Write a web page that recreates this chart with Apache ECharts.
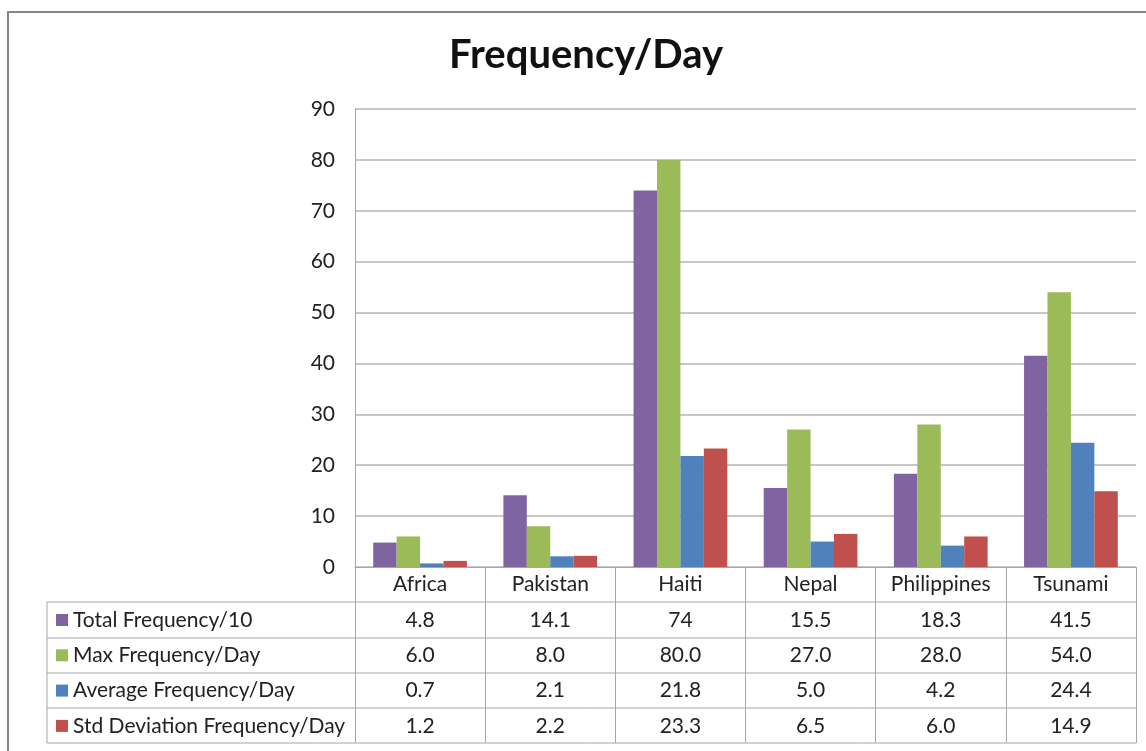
<!DOCTYPE html>
<html>
<head>
<meta charset="utf-8">
<title>Frequency/Day</title>
<script src="https://cdn.jsdelivr.net/npm/echarts@6/dist/echarts.min.js"></script>
<style>
  html, body { margin: 0; padding: 0; background: #fff; }
  #main { width: 1146px; height: 751px; }
</style>
</head>
<body>
<div id="main"></div>
<script>
var categories = ['Africa', 'Pakistan', 'Haiti', 'Nepal', 'Philippines', 'Tsunami'];
var totalFreq = [4.8, 14.1, 74, 15.5, 18.3, 41.5];
var maxFreq = [6.0, 8.0, 80.0, 27.0, 28.0, 54.0];
var avgFreq = [0.7, 2.1, 21.8, 5.0, 4.2, 24.4];
var stdFreq = [1.2, 2.2, 23.3, 6.5, 6.0, 14.9];
var seriesNames = ['Total Frequency/10', 'Max Frequency/Day', 'Average Frequency/Day', 'Std Deviation Frequency/Day'];
var yTicks = [0, 10, 20, 30, 40, 50, 60, 70, 80, 90];

var colors = ['#8064A2', '#9BBB59', '#4F81BD', '#C0504D'];
var font = 'Lato, "Noto Sans", sans-serif';
var lineCol = '#a6a6a6';
var rowH = 35.3;

var myChart = echarts.init(document.getElementById('main'));

// one column of the data table: category name then the four values
function cellText(idx) {
    var lines = [categories[idx]];
    lines.push(String(totalFreq[idx]));
    lines.push(maxFreq[idx].toFixed(1));
    lines.push(avgFreq[idx].toFixed(1));
    lines.push(stdFreq[idx].toFixed(1));
    return lines.join('\n');
}

// table horizontal rules + frame
var tableLines = [];
var rowTops = [602, 638, 673, 708, 743];
rowTops.forEach(function (y) {
    tableLines.push({
        type: 'line',
        shape: { x1: 47, y1: y, x2: 1136, y2: y },
        style: { stroke: lineCol, lineWidth: 1 },
        silent: true
    });
});
tableLines.push({
    type: 'line',
    shape: { x1: 47, y1: 602, x2: 47, y2: 743 },
    style: { stroke: lineCol, lineWidth: 1 },
    silent: true
});
tableLines.push({
    type: 'rect',
    shape: { x: 8, y: 12, width: 1300, height: 900 },
    style: { fill: null, stroke: '#868686', lineWidth: 2 },
    silent: true
});

option = {
    animation: false,
    backgroundColor: '#fff',
    color: colors,
    title: {
        text: 'Frequency/Day',
        left: 581,
        top: 30,
        textAlign: 'center',
        textStyle: { fontFamily: font, fontWeight: 'bold', fontSize: 40, color: '#111' }
    },
    legend: {
        orient: 'vertical',
        left: 56,
        top: 608,
        padding: 0,
        icon: 'rect',
        itemWidth: 12,
        itemHeight: 12,
        itemGap: rowH - 24,
        selectedMode: false,
        data: seriesNames,
        textStyle: { fontFamily: font, fontSize: 21, color: '#222', lineHeight: 24 }
    },
    grid: { left: 355, right: 10, top: 109, bottom: 184, containLabel: false },
    xAxis: {
        type: 'category',
        data: categories,
        axisLine: { show: true, lineStyle: { color: lineCol, width: 1 } },
        axisTick: { show: true, length: 176, interval: 0, lineStyle: { color: lineCol, width: 1 } },
        axisLabel: {
            interval: 0,
            margin: 0,
            fontFamily: font,
            fontSize: 21,
            color: '#222',
            lineHeight: rowH,
            formatter: function (v, i) { return cellText(i); }
        }
    },
    yAxis: {
        type: 'value',
        min: yTicks[0],
        max: yTicks[yTicks.length - 1],
        interval: 10,
        axisLine: { show: true, lineStyle: { color: lineCol, width: 1 } },
        axisTick: { show: false },
        axisLabel: { fontFamily: font, fontSize: 21, color: '#222', margin: 20 },
        splitLine: { show: true, lineStyle: { color: '#b4b4b4', width: 1.5 } }
    },
    graphic: tableLines,
    series: [
        { name: seriesNames[0], type: 'bar', data: totalFreq, barGap: '0%', barCategoryGap: '28%' },
        { name: seriesNames[1], type: 'bar', data: maxFreq, barGap: '0%', barCategoryGap: '28%' },
        { name: seriesNames[2], type: 'bar', data: avgFreq, barGap: '0%', barCategoryGap: '28%' },
        { name: seriesNames[3], type: 'bar', data: stdFreq, barGap: '0%', barCategoryGap: '28%' }
    ]
};
myChart.setOption(option);
</script>
</body>
</html>
